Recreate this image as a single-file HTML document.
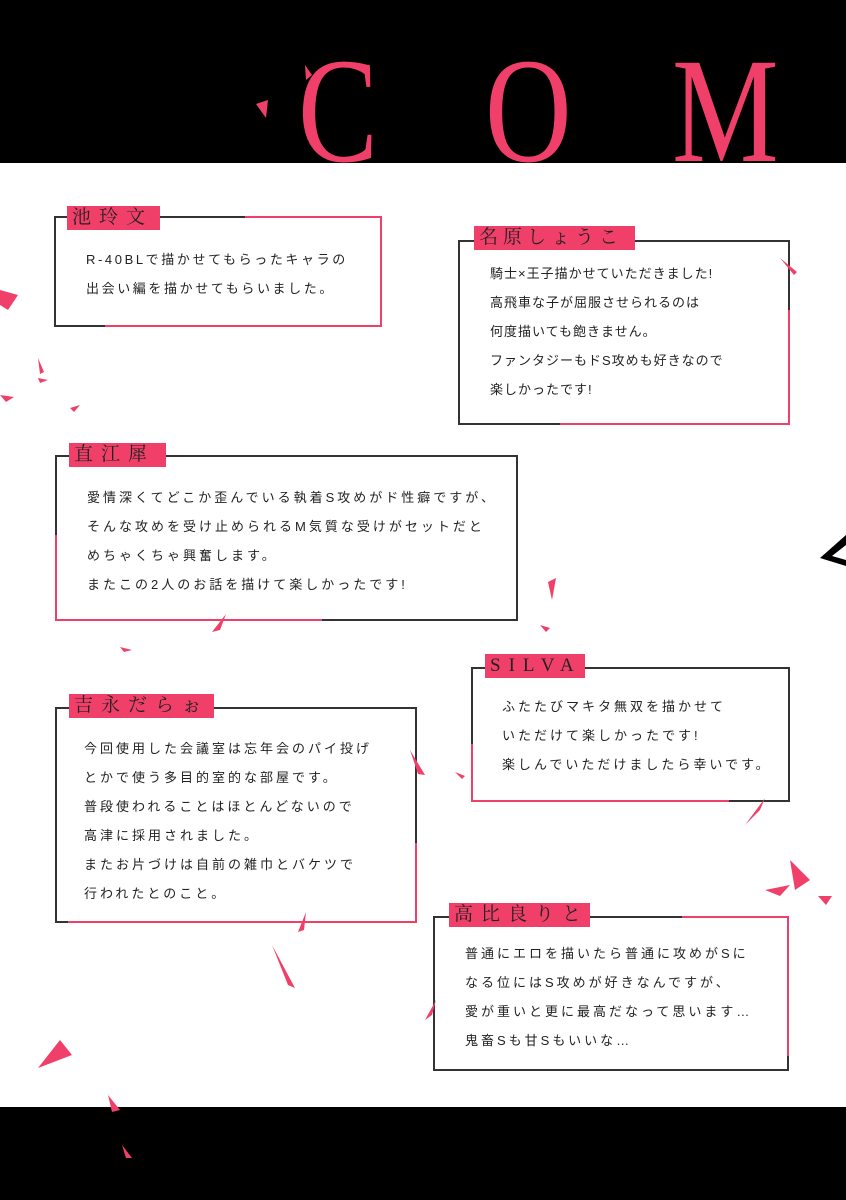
<!DOCTYPE html>
<html><head><meta charset="utf-8"><style>
body{margin:0;width:846px;height:1200px;position:relative;background:#fff;overflow:hidden;font-family:"Liberation Sans","Noto Sans CJK JP",sans-serif;}
.band{position:absolute;left:0;width:846px;background:#000;overflow:hidden}
.big{position:absolute;color:#f0406a;font-family:"Liberation Serif",serif;font-size:150px;line-height:1;top:36px;transform:scaleX(0.8);transform-origin:left top}
.box{position:absolute;border:2px solid #333;box-sizing:border-box}
.seg{position:absolute;background:#f0406a}
.lab{position:absolute;background:#f0406a;color:#222;font-family:"Liberation Serif","Noto Serif CJK SC",serif;font-size:19px;line-height:24px;letter-spacing:8px;padding-left:5px;white-space:nowrap}
.txt{position:absolute;font-size:13px;line-height:29px;letter-spacing:3px;color:#222;white-space:nowrap}
</style></head><body>
<div class="band" style="top:0;height:163px">
<div class="big" style="left:298px">C</div>
<div class="big" style="left:485px">O</div>
<div class="big" style="left:672px">M</div>
</div>
<div class="band" style="top:1107px;height:93px"></div>

<div class="box" style="left:54px;top:216px;width:328px;height:111px"></div>
<div class="seg" style="left:245px;top:216px;width:137px;height:2px"></div>
<div class="seg" style="left:380px;top:216px;width:2px;height:111px"></div>
<div class="seg" style="left:105px;top:325px;width:277px;height:2px"></div>
<div class="lab" style="left:67px;top:206px;width:88px">池玲文</div>
<div class="txt" style="left:86px;top:245px;letter-spacing:2.6px">R-40BLで描かせてもらったキャラの<br>出会い編を描かせてもらいました。</div>

<div class="box" style="left:458px;top:240px;width:332px;height:185px"></div>
<div class="seg" style="left:788px;top:310px;width:2px;height:115px"></div>
<div class="seg" style="left:560px;top:423px;width:230px;height:2px"></div>
<div class="lab" style="left:474px;top:226px;width:156px;letter-spacing:5px">名原しょうこ</div>
<div class="txt" style="left:490px;top:259px;letter-spacing:1px">騎士×王子描かせていただきました!<br>高飛車な子が屈服させられるのは<br>何度描いても飽きません。<br>ファンタジーもドS攻めも好きなので<br>楽しかったです!</div>

<div class="box" style="left:55px;top:455px;width:463px;height:166px"></div>
<div class="seg" style="left:55px;top:535px;width:2px;height:86px"></div>
<div class="seg" style="left:55px;top:619px;width:267px;height:2px"></div>
<div class="lab" style="left:69px;top:443px;width:92px">直江犀</div>
<div class="txt" style="left:87px;top:483px">愛情深くてどこか歪んでいる執着S攻めがド性癖ですが、<br>そんな攻めを受け止められるM気質な受けがセットだと<br>めちゃくちゃ興奮します。<br>またこの2人のお話を描けて楽しかったです!</div>

<div class="box" style="left:471px;top:667px;width:319px;height:135px"></div>
<div class="seg" style="left:471px;top:744px;width:2px;height:58px"></div>
<div class="seg" style="left:471px;top:800px;width:258px;height:2px"></div>
<div class="lab" style="left:485px;top:654px;width:95px">SILVA</div>
<div class="txt" style="left:502px;top:692px">ふたたびマキタ無双を描かせて<br>いただけて楽しかったです!<br>楽しんでいただけましたら幸いです。</div>

<div class="box" style="left:55px;top:707px;width:362px;height:216px"></div>
<div class="seg" style="left:415px;top:843px;width:2px;height:80px"></div>
<div class="seg" style="left:68px;top:921px;width:349px;height:2px"></div>
<div class="lab" style="left:69px;top:694px;width:140px">吉永だらぉ</div>
<div class="txt" style="left:84px;top:734px">今回使用した会議室は忘年会のパイ投げ<br>とかで使う多目的室的な部屋です。<br>普段使われることはほとんどないので<br>高津に採用されました。<br>またお片づけは自前の雑巾とバケツで<br>行われたとのこと。</div>

<div class="box" style="left:433px;top:916px;width:356px;height:155px"></div>
<div class="seg" style="left:682px;top:916px;width:107px;height:2px"></div>
<div class="seg" style="left:787px;top:916px;width:2px;height:140px"></div>
<div class="lab" style="left:449px;top:903px;width:136px">高比良りと</div>
<div class="txt" style="left:465px;top:939px">普通にエロを描いたら普通に攻めがSに<br>なる位にはS攻めが好きなんですが、<br>愛が重いと更に最高だなって思います…<br>鬼畜Sも甘Sもいいな…</div>

<svg style="position:absolute;left:0;top:0" width="846" height="1200">
<polygon fill="#000" points="820,558 846,535 846,545 832,556 846,560 846,566"/>
<g fill="#f0406a">
<polygon points="0,290 18,295 8,310 0,305"/>
<polygon points="38,358 44,372 40,374"/>
<polygon points="38,378 48,380 40,383"/>
<polygon points="0,395 14,397 6,402"/>
<polygon points="70,408 80,405 74,412"/>
<polygon points="780,258 797,272 794,275"/>
<polygon points="548,582 556,578 552,600"/>
<polygon points="540,625 550,628 546,632"/>
<polygon points="212,632 226,614 220,630"/>
<polygon points="120,647 132,650 124,652"/>
<polygon points="410,750 425,775 418,774"/>
<polygon points="455,772 465,776 462,779"/>
<polygon points="745,825 765,798 760,810"/>
<polygon points="790,860 810,880 795,890"/>
<polygon points="765,890 790,885 780,896"/>
<polygon points="818,896 832,896 826,905"/>
<polygon points="298,932 306,912 304,930"/>
<polygon points="272,945 295,988 288,985"/>
<polygon points="425,1020 436,1000 432,1015"/>
<polygon points="38,1068 60,1040 72,1055"/>
<polygon points="108,1095 120,1110 112,1112"/>
<polygon points="122,1145 132,1158 126,1158"/>
<polygon points="256,104 268,100 266,118"/>
<polygon points="305,65 312,75 306,80"/>
</g></svg>
</body></html>
